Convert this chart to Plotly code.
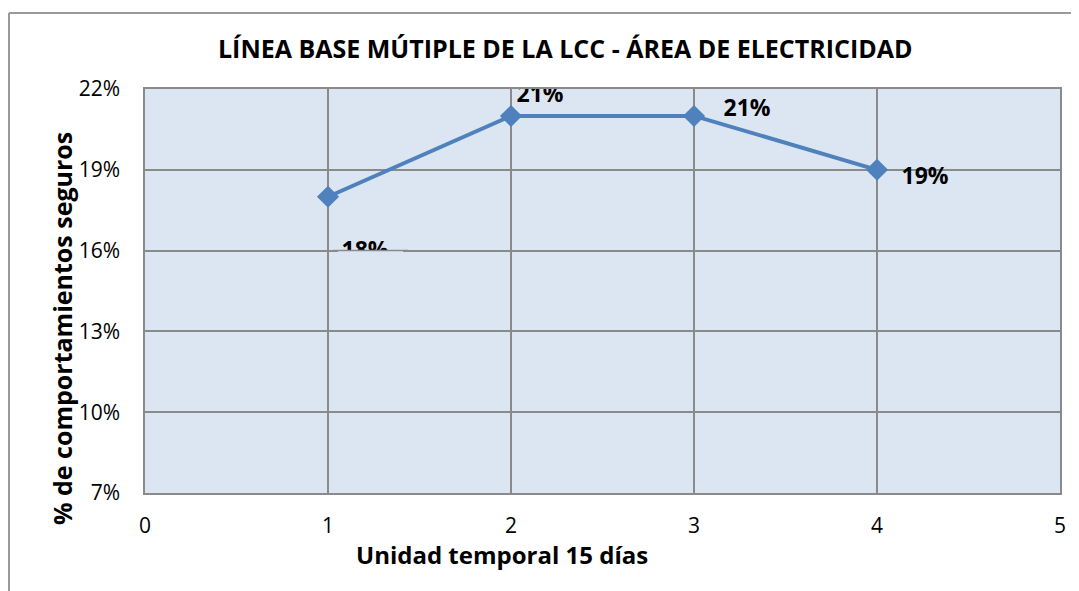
import plotly.graph_objects as go

# ---- data ----
periods = [1, 2, 3, 4]
values = [0.18, 0.21, 0.21, 0.19]
labels = ["18%", "21%", "21%", "19%"]
y_ticks = [0.07, 0.10, 0.13, 0.16, 0.19, 0.22]
y_tick_text = ["7%", "10%", "13%", "16%", "19%", "22%"]
x_ticks = [0, 1, 2, 3, 4, 5]

title_text = "LÍNEA BASE MÚTIPLE DE LA LCC - ÁREA DE ELECTRICIDAD"
x_title = "Unidad temporal 15 días"
y_title = "% de comportamientos seguros"

# ---- style ----
OFF = 8  # page body margin
W, H = 1079 - OFF, 591 - OFF
ML, MR, MT, MB = 145 - OFF, 19, 89 - OFF, 98
PW, PH = W - ML - MR, H - MT - MB
XR = [0, 5]
YR = [0.07, 0.22]
px_x = PW / (XR[1] - XR[0])
px_y = PH / (YR[1] - YR[0])

BLUE = "#4f81bd"
GRID = "#8a8a8a"
BG = "#dce6f2"
FONT = "Open Sans"

# pixel offsets for the data labels (right, down)
label_offsets = [(37, 56), (29, -20), (53, -6), (48, 8)]
label_x = [x + dx / px_x for x, (dx, dy) in zip(periods, label_offsets)]
label_y = [y - dy / px_y for y, (dx, dy) in zip(values, label_offsets)]

fig = go.Figure()
fig.add_trace(go.Scatter(
    x=periods, y=values, mode="lines+markers",
    line=dict(color=BLUE, width=4),
    marker=dict(symbol="diamond", size=17, color=BLUE),
    hoverinfo="skip", showlegend=False, cliponaxis=False,
))
fig.add_trace(go.Scatter(
    x=label_x, y=label_y, mode="text", text=labels,
    textfont=dict(family=FONT, size=23, color="#000000", weight="bold"),
    textposition="middle center", cliponaxis=True,
    hoverinfo="skip", showlegend=False,
))

def px2paper_x(p):
    return (p - OFF - ML) / PW

def px2paper_y(p):
    return (H - MB - (p - OFF)) / PH

shapes = [
    # outer chart frame (left and top edges visible)
    dict(type="line", xref="paper", yref="paper",
         x0=px2paper_x(9), x1=px2paper_x(9), y0=px2paper_y(13), y1=px2paper_y(600),
         line=dict(color="#9a9a9a", width=2)),
    dict(type="line", xref="paper", yref="paper",
         x0=px2paper_x(9), x1=px2paper_x(1085), y0=px2paper_y(13), y1=px2paper_y(13),
         line=dict(color="#9a9a9a", width=2)),
    # mask hiding the lower half of the first data label (as in the original)
    dict(type="rect", xref="x", yref="y", layer="above",
         x0=periods[0] + 10 / px_x, x1=periods[0] + 75 / px_x,
         y0=0.16 - 16 / px_y, y1=0.16,
         fillcolor=BG, line=dict(width=0)),
    dict(type="line", xref="x", yref="y", layer="above",
         x0=periods[0] + 5 / px_x, x1=periods[0] + 80 / px_x, y0=0.16, y1=0.16,
         line=dict(color=GRID, width=1.5)),
]

annotations = [
    dict(text=f"<b>{title_text}</b>", xref="paper", yref="paper",
         x=px2paper_x(565), y=px2paper_y(48), xanchor="center", yanchor="middle",
         showarrow=False, font=dict(family=FONT, size=25, color="#000000")),
    dict(text=f"<b>{x_title}</b>", xref="paper", yref="paper",
         x=px2paper_x(502), y=px2paper_y(554), xanchor="center", yanchor="middle",
         showarrow=False, font=dict(family=FONT, size=24, color="#000000")),
    dict(text=f"<b>{y_title}</b>", xref="paper", yref="paper",
         x=px2paper_x(62), y=px2paper_y(329), xanchor="center", yanchor="middle",
         textangle=-90, showarrow=False,
         font=dict(family=FONT, size=25, color="#000000")),
]

fig.update_layout(
    width=W, height=H,
    margin=dict(l=ML, r=MR, t=MT, b=MB),
    paper_bgcolor="#ffffff", plot_bgcolor=BG,
    shapes=shapes, annotations=annotations,
    showlegend=False,
)
fig.update_xaxes(
    range=XR, tickvals=x_ticks, ticktext=[str(t) for t in x_ticks],
    showgrid=True, gridcolor=GRID, gridwidth=1.5, zeroline=False,
    showline=True, linecolor=GRID, linewidth=1.5, mirror=True,
    ticks="", ticklabelstandoff=13,
    tickfont=dict(family=FONT, size=21, color="#000000"),
)
fig.update_yaxes(
    range=YR, tickvals=y_ticks, ticktext=y_tick_text,
    showgrid=True, gridcolor=GRID, gridwidth=1.5, zeroline=False,
    showline=True, linecolor=GRID, linewidth=1.5, mirror=True,
    ticks="", ticklabelstandoff=19,
    tickfont=dict(family=FONT, size=21, color="#000000"),
)

fig.write_html("out.html")
